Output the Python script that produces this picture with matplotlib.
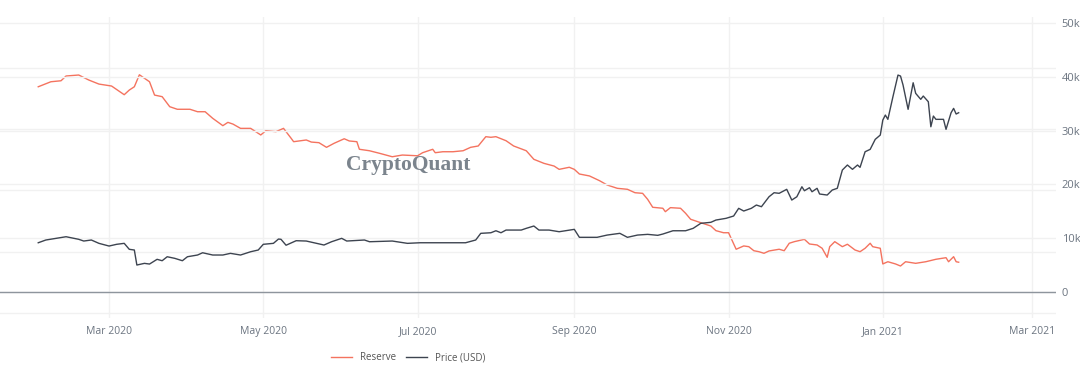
import matplotlib
matplotlib.use('Agg')
import matplotlib.pyplot as plt
import matplotlib.dates as mdates
import pandas as pd

# BTC price (USD)
price_dates = [
    '2020-02-02', '2020-02-05', '2020-02-09', '2020-02-13', '2020-02-18', '2020-02-20',
    '2020-02-23', '2020-02-26', '2020-03-01', '2020-03-04', '2020-03-07', '2020-03-09',
    '2020-03-11', '2020-03-12', '2020-03-15', '2020-03-17', '2020-03-20', '2020-03-22',
    '2020-03-24', '2020-03-27', '2020-03-30', '2020-04-01', '2020-04-05', '2020-04-07',
    '2020-04-11', '2020-04-15', '2020-04-18', '2020-04-22', '2020-04-26', '2020-04-29',
    '2020-05-01', '2020-05-05', '2020-05-07', '2020-05-08', '2020-05-10', '2020-05-14',
    '2020-05-18', '2020-05-21', '2020-05-25', '2020-05-28', '2020-06-01', '2020-06-03',
    '2020-06-10', '2020-06-12', '2020-06-21', '2020-06-27', '2020-07-02', '2020-07-10',
    '2020-07-20', '2020-07-24', '2020-07-26', '2020-07-30', '2020-08-01', '2020-08-03',
    '2020-08-05', '2020-08-11', '2020-08-13', '2020-08-16', '2020-08-18', '2020-08-22',
    '2020-08-26', '2020-09-01', '2020-09-03', '2020-09-06', '2020-09-10', '2020-09-14',
    '2020-09-19', '2020-09-22', '2020-09-26', '2020-09-30', '2020-10-04', '2020-10-06',
    '2020-10-10', '2020-10-15', '2020-10-18', '2020-10-21', '2020-10-25', '2020-10-27',
    '2020-10-31', '2020-11-03', '2020-11-05', '2020-11-07', '2020-11-10', '2020-11-12',
    '2020-11-14', '2020-11-17', '2020-11-19', '2020-11-21', '2020-11-24', '2020-11-26',
    '2020-11-28', '2020-11-30', '2020-12-01', '2020-12-03', '2020-12-04', '2020-12-06',
    '2020-12-07', '2020-12-10', '2020-12-12', '2020-12-14', '2020-12-16', '2020-12-18',
    '2020-12-20', '2020-12-22', '2020-12-23', '2020-12-25', '2020-12-27', '2020-12-29',
    '2020-12-31', '2021-01-01', '2021-01-02', '2021-01-03', '2021-01-05', '2021-01-07',
    '2021-01-08', '2021-01-09', '2021-01-11', '2021-01-12', '2021-01-13', '2021-01-14',
    '2021-01-16', '2021-01-17', '2021-01-19', '2021-01-20', '2021-01-21', '2021-01-22',
    '2021-01-25', '2021-01-26', '2021-01-28', '2021-01-29', '2021-01-30', '2021-01-31',
]
price_usd = [
    9160, 9670, 9980, 10280, 9800, 9480,
    9670, 9050, 8550, 8870, 9050, 7940,
    7810, 5020, 5330, 5200, 6080, 5820,
    6560, 6260, 5820, 6560, 6880, 7300,
    6880, 6880, 7190, 6880, 7490, 7810,
    8870, 9050, 9850, 9800, 8700, 9540,
    9480, 9160, 8740, 9350, 9980, 9480,
    9670, 9350, 9480, 9050, 9160, 9160,
    9160, 9670, 10910, 11020, 11390, 11020,
    11520, 11520, 11840, 12270, 11520, 11520,
    11210, 11650, 10170, 10170, 10170, 10590,
    10910, 10170, 10590, 10720, 10540, 10780,
    11390, 11390, 11840, 12770, 12960, 13380,
    13700, 14130, 15560, 15060, 15560, 16170,
    15860, 17710, 18460, 18350, 19090, 17100,
    17710, 19570, 18830, 19390, 18640, 19280,
    18220, 18030, 18960, 19280, 22680, 23610,
    22810, 23610, 23180, 26080, 26520, 28380,
    29180, 31970, 32900, 32100, 36300, 40330,
    40150, 38480, 33960, 36430, 38900, 36930,
    35820, 36430, 35370, 30720, 32710, 32100,
    32100, 30240, 33330, 34140, 33090, 33330,
]

# exchange reserve (thousand BTC), its axis labels are hidden in the chart
reserve_dates = [
    '2020-02-02', '2020-02-07', '2020-02-11', '2020-02-13', '2020-02-18', '2020-02-22',
    '2020-02-26', '2020-03-02', '2020-03-07', '2020-03-09', '2020-03-11', '2020-03-13',
    '2020-03-17', '2020-03-19', '2020-03-22', '2020-03-25', '2020-03-28', '2020-04-02',
    '2020-04-05', '2020-04-08', '2020-04-11', '2020-04-15', '2020-04-17', '2020-04-19',
    '2020-04-22', '2020-04-26', '2020-04-30', '2020-05-02', '2020-05-06', '2020-05-09',
    '2020-05-12', '2020-05-13', '2020-05-18', '2020-05-20', '2020-05-23', '2020-05-26',
    '2020-05-29', '2020-06-02', '2020-06-04', '2020-06-07', '2020-06-08', '2020-06-12',
    '2020-06-16', '2020-06-21', '2020-06-25', '2020-07-01', '2020-07-03', '2020-07-07',
    '2020-07-08', '2020-07-11', '2020-07-15', '2020-07-19', '2020-07-22', '2020-07-25',
    '2020-07-28', '2020-07-30', '2020-08-01', '2020-08-05', '2020-08-08', '2020-08-13',
    '2020-08-16', '2020-08-20', '2020-08-24', '2020-08-26', '2020-08-30', '2020-09-01',
    '2020-09-03', '2020-09-07', '2020-09-11', '2020-09-14', '2020-09-18', '2020-09-22',
    '2020-09-25', '2020-09-28', '2020-09-30', '2020-10-02', '2020-10-06', '2020-10-07',
    '2020-10-09', '2020-10-13', '2020-10-15', '2020-10-17', '2020-10-21', '2020-10-25',
    '2020-10-27', '2020-10-30', '2020-11-01', '2020-11-04', '2020-11-07', '2020-11-09',
    '2020-11-11', '2020-11-13', '2020-11-15', '2020-11-17', '2020-11-21', '2020-11-23',
    '2020-11-25', '2020-11-27', '2020-12-01', '2020-12-03', '2020-12-06', '2020-12-08',
    '2020-12-10', '2020-12-11', '2020-12-13', '2020-12-16', '2020-12-18', '2020-12-21',
    '2020-12-23', '2020-12-25', '2020-12-27', '2020-12-28', '2020-12-31', '2021-01-01',
    '2021-01-03', '2021-01-06', '2021-01-08', '2021-01-10', '2021-01-14', '2021-01-18',
    '2021-01-22', '2021-01-26', '2021-01-27', '2021-01-29', '2021-01-30', '2021-01-31',
]
reserve_k = [
    934.7, 938.8, 939.6, 943.5, 944.3, 940.2,
    936.9, 935.3, 928.2, 932.0, 934.7, 944.5,
    938.8, 927.9, 926.6, 918.4, 916.3, 916.3,
    914.3, 914.3, 908.9, 902.9, 905.6, 904.2,
    900.7, 900.7, 895.3, 898.8, 898.0, 900.7,
    892.6, 889.8, 891.2, 889.5, 889.0, 885.2,
    888.5, 892.2, 890.4, 889.8, 883.6, 882.4,
    880.3, 877.5, 878.9, 878.3, 880.8, 883.6,
    880.8, 881.6, 881.6, 882.4, 885.2, 886.3,
    893.9, 893.4, 893.9, 890.6, 886.3, 882.4,
    875.4, 872.1, 869.9, 867.2, 868.9, 867.2,
    863.4, 861.8, 857.9, 854.4, 851.7, 850.9,
    848.1, 847.6, 842.7, 836.2, 835.4, 832.6,
    835.9, 835.4, 831.3, 826.4, 823.6, 820.9,
    817.1, 815.4, 815.4, 801.9, 804.6, 804.0,
    800.7, 799.9, 798.6, 800.5, 801.9, 800.7,
    806.8, 808.1, 810.0, 806.2, 805.4, 802.7,
    795.3, 804.0, 808.1, 804.0, 806.0, 801.3,
    799.9, 802.7, 806.8, 804.0, 802.7, 789.9,
    791.7, 789.9, 788.2, 791.7, 790.4, 791.7,
    793.7, 795.0, 791.7, 795.8, 791.7, 791.3,
]

price_ticks = [0, 10000, 20000, 30000, 40000, 50000]
price_labels = ['0', '10k', '20k', '30k', '40k', '50k']
reserve_ticks = [750, 800, 850, 900, 950]

RESERVE_COLOR = '#f4735f'
PRICE_COLOR = '#3d4450'
GRID_COLOR = '#f1f1f1'
TEXT_COLOR = '#6b7480'

plt.rcParams['font.family'] = ['Open Sans', 'DejaVu Sans']

fig = plt.figure(figsize=(10.8, 3.7), dpi=100)
ax_r = fig.add_axes([0.0, 0.1405, 0.9778, 0.8135])
ax_p = ax_r.twinx()

ax_r.plot(pd.to_datetime(reserve_dates), reserve_k, color=RESERVE_COLOR, lw=1.0,
          label='Reserve')
ax_p.plot(pd.to_datetime(price_dates), price_usd, color=PRICE_COLOR, lw=1.0,
          label='Price (USD)')

x_min = pd.Timestamp('2020-01-17 21:00')
x_max = pd.Timestamp('2021-03-10 12:00')
ax_r.set_xlim(x_min, x_max)
ax_r.set_ylim(745.7, 991.7)
ax_p.set_ylim(-4830, 51120)

ax_r.xaxis.set_major_locator(mdates.MonthLocator(bymonth=[1, 3, 5, 7, 9, 11]))
ax_r.xaxis.set_major_formatter(mdates.DateFormatter('%b %Y'))
ax_r.set_yticks(reserve_ticks)
ax_r.tick_params(axis='y', left=False, labelleft=False)
ax_r.tick_params(axis='x', length=0, pad=6, labelsize=7.5, labelcolor=TEXT_COLOR)
ax_r.grid(True, axis='both', color=GRID_COLOR, lw=1.0)

ax_p.set_yticks(price_ticks)
ax_p.set_yticklabels(price_labels)
ax_p.tick_params(axis='y', length=0, pad=4, labelsize=8, labelcolor=TEXT_COLOR)
ax_p.grid(True, axis='y', color=GRID_COLOR, lw=1.0)
ax_p.axhline(0, color='#8e959d', lw=1.0, zorder=1)

for a in (ax_r, ax_p):
    for s in a.spines.values():
        s.set_visible(False)
ax_r.set_axisbelow(True)
ax_p.set_axisbelow(True)

fig.text(0.378, 0.553, 'CryptoQuant', family=['Liberation Serif', 'DejaVu Serif'],
         fontsize=15.5, fontweight='bold', color='#7b848d', ha='center', va='center')

h1, l1 = ax_r.get_legend_handles_labels()
h2, l2 = ax_p.get_legend_handles_labels()
fig.legend(h1 + h2, l1 + l2, loc='center', bbox_to_anchor=(0.378, 0.033), ncol=2,
           frameon=False, fontsize=7, handlelength=2.2, columnspacing=1.0,
           labelcolor='#555555')

fig.savefig('out.png', dpi=100)
